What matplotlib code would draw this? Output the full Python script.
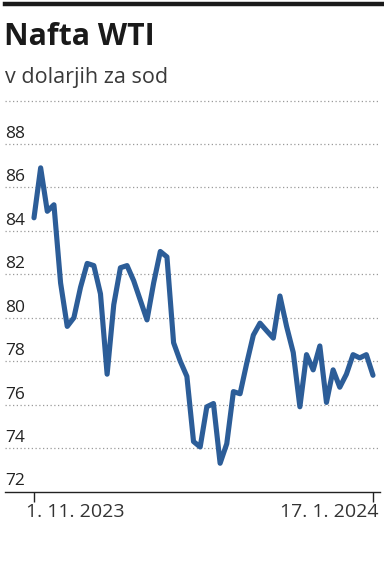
import matplotlib
matplotlib.use("Agg")
import matplotlib.pyplot as plt
from matplotlib.lines import Line2D

# Daily settlement prices, 1. 11. 2023 - 17. 1. 2024 (trading days)
prices = [
    84.6, 86.9, 84.9, 85.2, 81.6, 79.6, 80.0, 81.4, 82.5, 82.4,
    81.1, 77.4, 80.6, 82.3, 82.4, 81.7, 80.8, 79.9, 81.6, 83.05,
    82.8, 78.85, 78.0, 77.3, 74.3, 74.05, 75.9, 76.05, 73.3, 74.2,
    76.6, 76.5, 77.9, 79.2, 79.75, 79.4, 79.06, 81.0, 79.6, 78.4,
    75.9, 78.3, 77.6, 78.7, 76.1, 77.6, 76.8, 77.4, 78.3, 78.15,
    78.3, 77.35,
]
x_tick_labels = ["1. 11. 2023", "17. 1. 2024"]
y_ticks = [72, 74, 76, 78, 80, 82, 84, 86, 88]
title = "Nafta WTI"
subtitle = "v dolarjih za sod"

LINE = "#2c5d98"
TEXT = "#222222"
GRID = "#9a9a9a"

W, H = 384, 567
fig = plt.figure(figsize=(W / 100, H / 100), dpi=100)
plt.rcParams["font.family"] = ["Open Sans", "DejaVu Sans"]


def px(x, y):
    """pixel (from top-left) -> figure fraction"""
    return x / W, 1 - y / H


# header
fig.add_artist(Line2D([5 / W, 382 / W], [1 - 4 / H, 1 - 4 / H], color="#1a1a1a", lw=3.2))
fig.text(*px(4, 45), title, fontsize=21.8, fontweight="bold", color="#1a1a1a", va="baseline")
fig.text(*px(5, 83), subtitle, fontsize=15.5, color="#3a3a3a", va="baseline")

# axes: bottom at 72 (y=491.5 px), top at 90 (y=100.5 px)
left, right = 5, 380
bottom, top = 491.5, 100.5
ax = fig.add_axes([left / W, 1 - bottom / H, (right - left) / W, (bottom - top) / H])

n = len(prices)
x = list(range(n))
step = (373 - 34) / (n - 1)
ax.set_xlim(-(34 - left) / step, (n - 1) + (right - 373) / step)
ax.set_ylim(72, 90)

for v in y_ticks[1:] + [90]:
    ax.axhline(v, color=GRID, lw=0.9, ls=(0, (1, 2)), clip_on=False, zorder=1)
ytrans = ax.get_yaxis_transform()
for v in y_ticks:
    ax.text(0, v + 0.28, str(v), transform=ytrans, fontsize=12.5, color=TEXT,
            ha="left", va="baseline")

ax.plot(x, prices, color=LINE, lw=3.7, solid_joinstyle="round",
        solid_capstyle="round", zorder=3, clip_on=False)

for s in ["top", "right", "left"]:
    ax.spines[s].set_visible(False)
ax.spines["bottom"].set_color("#222222")
ax.spines["bottom"].set_linewidth(1.0)
ax.set_yticks([])
ax.set_xticks([0, n - 1])
ax.set_xticklabels([])
ax.tick_params(axis="x", length=7, width=1, color="#222222")

xtrans = ax.get_xaxis_transform()
ax.text(0 - 8 / step, -0.03, x_tick_labels[0], transform=xtrans, fontsize=14,
        color="#333333", ha="left", va="top")
ax.text(n - 1 + 5 / step, -0.03, x_tick_labels[1], transform=xtrans, fontsize=14,
        color="#333333", ha="right", va="top")

fig.savefig("out.png", dpi=100)
